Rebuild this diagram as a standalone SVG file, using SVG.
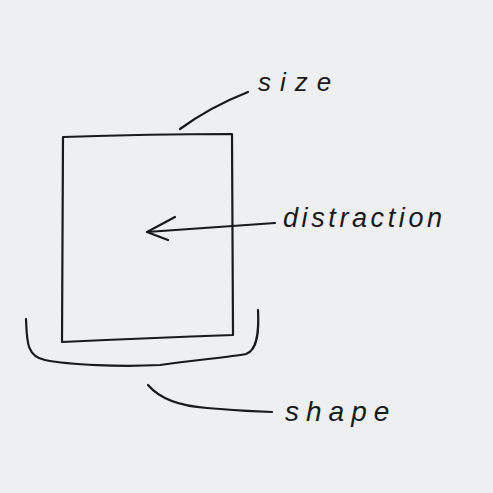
<svg xmlns="http://www.w3.org/2000/svg" width="493" height="493" viewBox="0 0 493 493">
<style>
.ink{fill:none;stroke:#1a1a1a;stroke-width:2.2;stroke-linecap:round;stroke-linejoin:round}
.lbl{font-family:"Liberation Sans",Arial,sans-serif;font-style:italic;fill:#1a1a1a;font-weight:normal}
</style>
<rect width="493" height="493" fill="#eeeff1"/>
<g id="box">
<path class="ink" d="M63,137 Q150,134 232,134 L233,335 Q150,338 62,342 Z"/>
</g>
<g id="bracket">
<path class="ink" d="M26,319 C27,340 26,356 45,360 C70,365 120,367 160,365 C195,360 230,357 246,354 C258,350 259,330 258,310"/>
</g>
<g id="size">
<text class="lbl" x="258" y="91" font-size="26" letter-spacing="9">size</text>
</g>
<g id="distraction">
<text class="lbl" x="283" y="227" font-size="27" letter-spacing="3.6">distraction</text>
</g>
<g id="shape">
<text class="lbl" x="285" y="421" font-size="28" letter-spacing="7">shape</text>
</g>
<g id="connectors">
<path class="ink" d="M180,129 Q210,107 248,92"/>
<path class="ink" d="M275,223 L147,232"/>
<path class="ink" d="M175,217 L147,232 L168,240"/>
<path class="ink" d="M148,385 Q165,405 207,408 Q240,411 272,412"/>
</g>
</svg>
